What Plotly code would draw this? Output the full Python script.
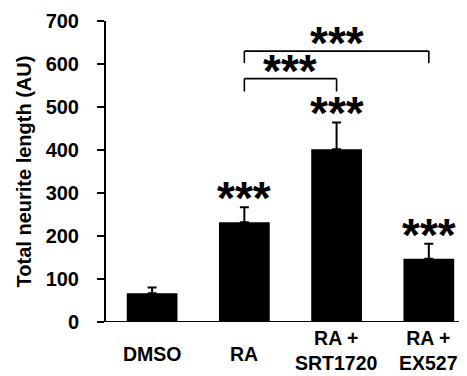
import plotly.graph_objects as go

categories = ["DMSO", "RA", "RA +<br>SRT1720", "RA +<br>EX527"]
means = [67, 232, 402, 147]
errors = [13, 35, 62, 35]
star_labels = ["", "***", "***", "***"]
y_ticks = [0, 100, 200, 300, 400, 500, 600, 700]

# comparison brackets: (from index, to index, bar height, leg bottom, label)
brackets = [(1, 2, 566, 536, "***"), (1, 3, 630, 602, "***")]

FONT = "Liberation Sans, Arial, sans-serif"
xs = list(range(len(categories)))

fig = go.Figure()
fig.add_trace(go.Bar(
    x=xs, y=means, width=0.55,
    marker=dict(color="black", line=dict(width=0)),
    error_y=dict(type="data", array=errors, arrayminus=[0] * len(errors),
                 symmetric=False, color="black", thickness=2, width=4.5),
    showlegend=False,
))

annotations = []
for i, (cat, m, e, s) in enumerate(zip(categories, means, errors, star_labels)):
    two_line = "<br>" in cat
    annotations.append(dict(x=i, xref="x", y=-0.113, yref="paper", text="<b>%s</b>" % cat,
                            showarrow=False, yanchor="middle", xanchor="center",
                            yshift=6 if two_line else 2, borderpad=0,
                            font=dict(family=FONT, size=19.5, color="black")))
    if s:
        annotations.append(dict(x=i, xref="x", y=m + e, yref="y", text="<b>%s</b>" % s,
                                showarrow=False, yanchor="bottom", xanchor="center", yshift=-19,
                                font=dict(family=FONT, size=46, color="black")))

shapes = []
for a, b, h, low, s in brackets:
    lw = dict(color="black", width=1.6)
    shapes.append(dict(type="line", xref="x", yref="y", x0=a, x1=b, y0=h, y1=h, line=lw))
    shapes.append(dict(type="line", xref="x", yref="y", x0=a, x1=a, y0=low, y1=h, line=lw))
    shapes.append(dict(type="line", xref="x", yref="y", x0=b, x1=b, y0=low, y1=h, line=lw))
    annotations.append(dict(x=(a + b) / 2, xref="x", y=h, yref="y", text="<b>%s</b>" % s,
                            showarrow=False, yanchor="bottom", xanchor="center", yshift=-20,
                            font=dict(family=FONT, size=46, color="black")))

# x axis baseline extending left past the y axis
shapes.append(dict(type="line", xref="paper", yref="y", x0=-0.021, x1=1, y0=0, y1=0,
                   line=dict(color="black", width=2)))

fig.update_layout(
    width=459, height=368,
    margin=dict(l=98, r=0, t=13, b=54, autoexpand=False),
    plot_bgcolor="white", paper_bgcolor="white",
    font=dict(family=FONT, color="black"),
    shapes=shapes, annotations=annotations,
    xaxis=dict(range=[-0.5, 3.414], showticklabels=False, showline=False, ticks="",
               showgrid=False, zeroline=False, fixedrange=True),
    yaxis=dict(range=[0, 700], tickvals=y_ticks, ticktext=["<b>%d</b>" % v for v in y_ticks],
               showline=True, linecolor="black", linewidth=2, ticks="outside", ticklen=7,
               tickwidth=2, tickcolor="black", showgrid=False, zeroline=False,
               tickfont=dict(family=FONT, size=20, color="black"), ticklabelstandoff=14,
               title=dict(text="<b>Total neurite length (AU)</b>", standoff=9,
                          font=dict(family=FONT, size=20, color="black")),
               fixedrange=True),
)

fig.write_html("out.html")
